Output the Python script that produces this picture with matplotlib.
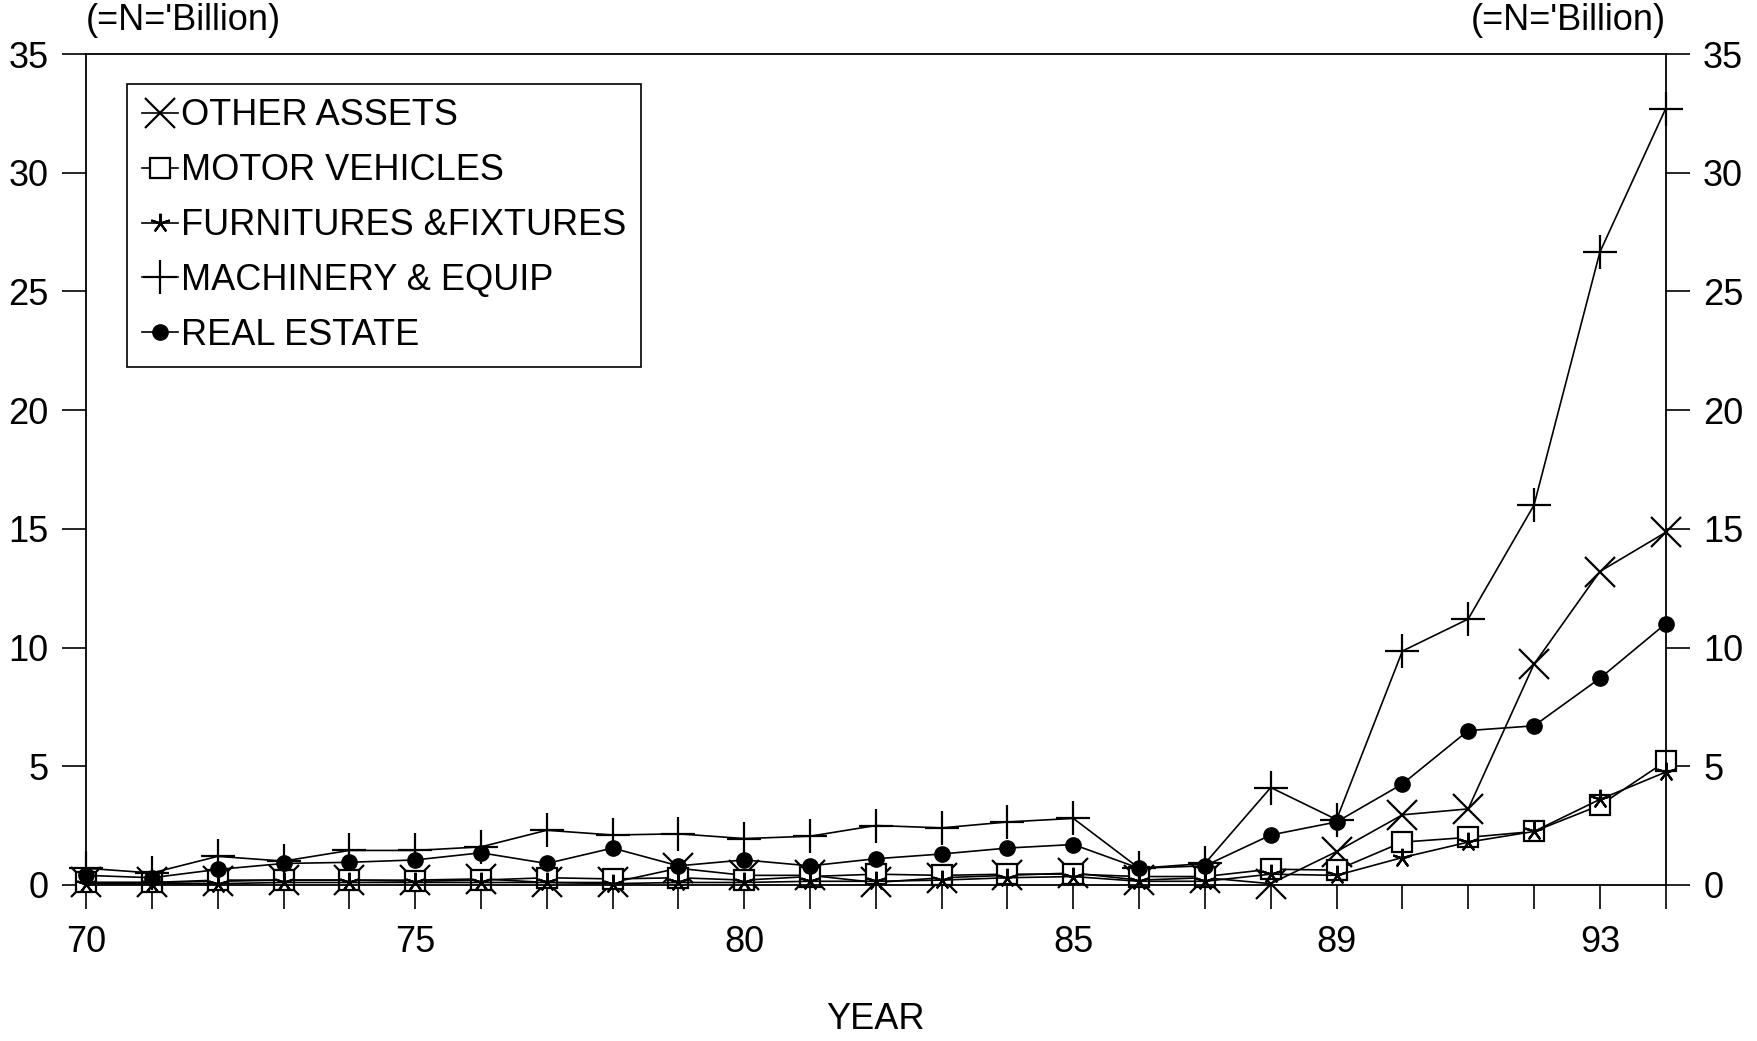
import numpy as np
import matplotlib.pyplot as plt

plt.rcParams['font.family'] = ['Liberation Sans', 'DejaVu Sans']

# ================ data (=N= billion) ================
years = list(range(70, 95))
other_assets = [0.1, 0.1, 0.15, 0.2, 0.2, 0.2, 0.25, 0.1, 0.1, 0.7, 0.4, 0.4, 0.1,
                0.3, 0.4, 0.5, 0.2, 0.3, 0.05, 1.4, 2.95, 3.2, 9.3, 13.2, 14.85]
motor_vehicles = [0.1, 0.1, 0.2, 0.2, 0.2, 0.15, 0.2, 0.3, 0.25, 0.3, 0.2, 0.35, 0.45,
                  0.4, 0.45, 0.45, 0.35, 0.35, 0.66, 0.62, 1.8, 2.0, 2.25, 3.35, 5.2]
furnitures = [0.05, 0.05, 0.05, 0.1, 0.1, 0.1, 0.1, 0.1, 0.05, 0.1, 0.1, 0.15, 0.15,
              0.2, 0.3, 0.35, 0.15, 0.15, 0.45, 0.4, 1.15, 1.8, 2.25, 3.6, 4.75]
machinery = [0.7, 0.5, 1.2, 1.0, 1.45, 1.45, 1.6, 2.3, 2.1, 2.15, 1.95, 2.05, 2.5,
             2.4, 2.65, 2.8, 0.7, 0.9, 4.1, 2.75, 9.85, 11.2, 16.0, 26.65, 32.7]
real_estate = [0.4, 0.3, 0.65, 0.9, 0.95, 1.05, 1.35, 0.9, 1.55, 0.8, 1.05, 0.8, 1.1,
               1.3, 1.55, 1.7, 0.7, 0.8, 2.1, 2.65, 4.25, 6.5, 6.7, 8.7, 11.0]

xtick_pos = [70, 75, 80, 85, 89, 93]
ytick_pos = [0, 5, 10, 15, 20, 25, 30, 35]

# ================ plot ================
fig = plt.figure(figsize=(17.57, 10.41), dpi=100)
ax = fig.add_axes([0.049, 0.150, 0.899, 0.798])

lw = 1.2
fs = 26
ax.plot(years, other_assets, color='black', lw=lw, marker='x', ms=22, mew=1.6,
        label='OTHER ASSETS', clip_on=False)
ax.plot(years, motor_vehicles, color='black', lw=lw, marker='s', ms=14, mew=1.6,
        mfc='white', label='MOTOR VEHICLES', clip_on=False)
ax.plot(years, furnitures, color='black', lw=lw, marker=(5, 2, 0), ms=14, mew=1.6,
        label='FURNITURES &FIXTURES', clip_on=False)
ax.plot(years, machinery, color='black', lw=lw, marker='+', ms=24, mew=1.6,
        label='MACHINERY & EQUIP', clip_on=False)
ax.plot(years, real_estate, color='black', lw=lw, marker='o', ms=11,
        label='REAL ESTATE', clip_on=False)

ax.set_xlim(70, 94)
ax.set_ylim(0, 35)
ax.set_xticks(years, minor=True)
ax.set_xticks(xtick_pos)
ax.set_xticklabels([str(v) for v in xtick_pos])
ax.set_yticks(ytick_pos)

ax.tick_params(axis='both', direction='out', length=17, width=1.2, labelsize=fs,
               color='black')
ax.tick_params(axis='x', which='minor', direction='out', length=17, width=1.2)
ax.tick_params(axis='x', pad=12)
ax.tick_params(axis='y', pad=10, left=True, right=True, labelleft=True, labelright=True)

for s in ax.spines.values():
    s.set_linewidth(1.3)

ax.set_xlabel('YEAR', fontsize=fs, labelpad=30)

fig.text(0.049, 0.980, "(=N='Billion)", fontsize=fs, ha='left', va='center')
fig.text(0.948, 0.980, "(=N='Billion)", fontsize=fs, ha='right', va='center')

leg = ax.legend(loc='upper left', bbox_to_anchor=(0.026, 0.964), fontsize=fs,
                frameon=True, fancybox=False, edgecolor='black', framealpha=1,
                handlelength=1.0, handletextpad=0.1, labelspacing=0.55,
                borderpad=0.4, borderaxespad=0)
leg.get_frame().set_linewidth(1.2)

fig.savefig('out.png', dpi=100)
